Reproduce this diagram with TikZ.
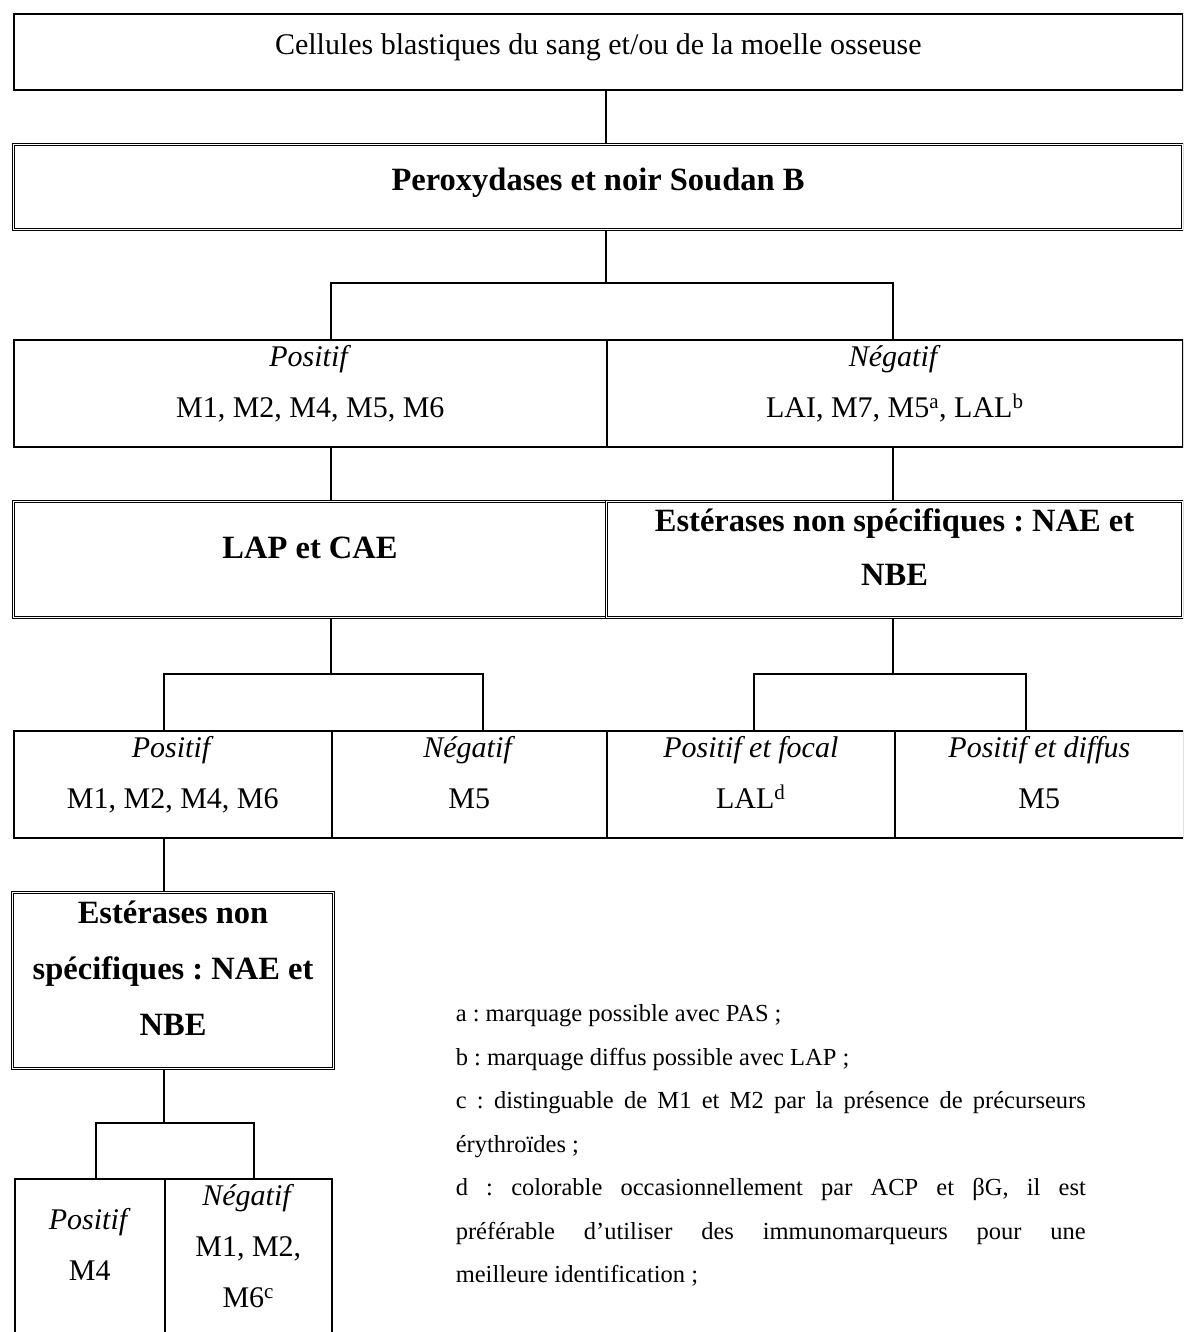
\documentclass[tikz,border=0pt]{standalone}
\usepackage{fontspec}
\setmainfont{Liberation Serif}
\frenchspacing

\begin{document}
\begin{tikzpicture}[x=1pt, y=-1pt, line width=1.6pt,
		cell/.style={draw, rectangle, inner sep=0pt, anchor=north west, align=center, text depth=24pt, font=\fontsize{30}{51}\selectfont},
		boldcell/.style={cell, double, double distance=1.4pt, line width=1.1pt, font=\fontsize{32.5}{54}\selectfont\bfseries},
		notes/.style={anchor=north west, inner sep=0pt, text width=630pt, align=justify, font=\fontsize{24.5}{43.5}\selectfont}]
		\clip (0,0) rectangle (1183,1332);
		\node[cell, text depth=15pt, minimum width=1169pt, minimum height=76pt] (cellules) at (13,13) {Cellules blastiques du sang et/ou de la moelle osseuse};
		\node[boldcell, text depth=15pt, minimum width=1169pt, minimum height=85pt] (pero) at (13,144) {Peroxydases et noir Soudan B};
		\node[cell, minimum width=593pt, minimum height=107pt] (posA) at (13,339) {\textit{Positif}\\M1, M2, M4, M5, M6};
		\node[cell, minimum width=576pt, minimum height=107pt] (negA) at (606,339) {\textit{Négatif}\\LAI, M7, M5\textsuperscript{a}, LAL\textsuperscript{b}};
		\node[boldcell, minimum width=593pt, minimum height=116pt] (lap) at (13,501) {LAP et CAE};
		\node[boldcell, minimum width=576pt, minimum height=116pt] (este) at (606,501) {Estérases non spécifiques : NAE et\\NBE};
		\node[cell, minimum width=318pt, minimum height=107pt] (posB) at (13,730) {\textit{Positif}\\M1, M2, M4, M6};
		\node[cell, minimum width=275pt, minimum height=107pt] (negB) at (331,730) {\textit{Négatif}\\M5};
		\node[cell, minimum width=288pt, minimum height=107pt] (focal) at (606,730) {\textit{Positif et focal}\\LAL\textsuperscript{d}};
		\node[cell, minimum width=289pt, minimum height=107pt] (diffus) at (894,730) {\textit{Positif et diffus}\\M5};
		\node[boldcell, minimum width=321pt, minimum height=176pt, font=\fontsize{32.5}{56}\selectfont\bfseries] (este2) at (12,892) {Estérases non\\spécifiques : NAE et\\NBE};
		\node[cell, text depth=33pt, minimum width=150pt, minimum height=164pt] (posC) at (14,1178) {\textit{Positif}\\M4};
		\node[cell, text depth=30pt, minimum width=167pt, minimum height=164pt] (negC) at (164,1178) {\textit{Négatif}\\M1, M2,\\M6\textsuperscript{c}};
		\node[notes] (legende) at (455,1004) {a : marquage possible avec PAS ;\\
			b : marquage diffus possible avec LAP ;\\
			c : distinguable de M1 et M2 par la présence de précurseurs\linebreak
			érythroïdes ;\\
			d : colorable occasionnellement par ACP et βG, il est\linebreak
			préférable d'utiliser des immunomarqueurs pour une\linebreak
			meilleure identification ;};
		\coordinate (k0) at (606,100);
		\coordinate (k1) at (606,283);
		\coordinate (k1a) at (331,283);
		\coordinate (k1b) at (893,283);
		\coordinate (k2) at (331,674);
		\coordinate (k2a) at (164,674);
		\coordinate (k2b) at (483,674);
		\coordinate (k3) at (893,674);
		\coordinate (k3a) at (754,674);
		\coordinate (k3b) at (1026,674);
		\coordinate (k4) at (164,1123);
		\coordinate (k4a) at (96,1123);
		\coordinate (k4b) at (254,1123);
		\draw (cellules.south -| k0) -- (pero.north -| k0);
		\draw (pero.south -| k1) -- (k1);
		\draw (k1a |- posA.north) |- (k1b) -- (k1b |- negA.north);
		\draw (k1a |- posA.south) -- (k1a |- lap.north);
		\draw (k1b |- negA.south) -- (k1b |- este.north);
		\draw (lap.south -| k2) -- (k2);
		\draw (k2a |- posB.north) |- (k2b) -- (k2b |- negB.north);
		\draw (este.south -| k3) -- (k3);
		\draw (k3a |- focal.north) |- (k3b) -- (k3b |- diffus.north);
		\draw (k2a |- posB.south) -- (k2a |- este2.north);
		\draw (este2.south -| k4) -- (k4);
		\draw (k4a |- posC.north) |- (k4b) -- (k4b |- negC.north);
	\end{tikzpicture}
\end{document}
